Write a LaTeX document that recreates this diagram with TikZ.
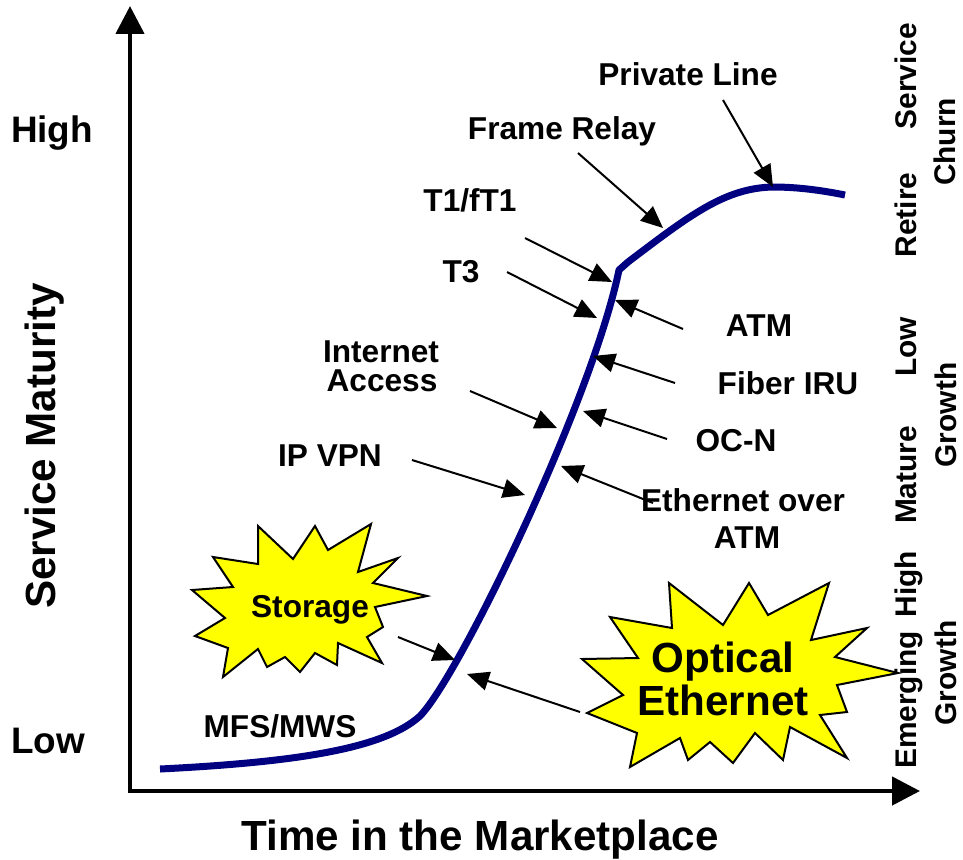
\documentclass[tikz,border=0pt]{standalone}
\usepackage{fontspec}
\setmainfont{Liberation Sans}
\usetikzlibrary{arrows.meta}
\definecolor{curveblue}{RGB}{0,0,128}
\definecolor{burstyellow}{RGB}{255,255,0}
\begin{document}
\begin{tikzpicture}[x=0.02cm,y=-0.02cm,
  lbl/.style={inner sep=0pt, anchor=base, font=\fontsize{18}{18}\selectfont\bfseries},
  biglbl/.style={lbl, font=\fontsize{24}{24}\selectfont\bfseries},
  levlbl/.style={lbl, font=\fontsize{21}{21}\selectfont\bfseries},
  side/.style={inner sep=0pt, anchor=base, rotate=90, font=\fontsize{17}{17}\selectfont\bfseries},
  pointer/.style={line width=0.04cm, -{Triangle[length=0.44cm,width=0.38cm]}},
  axisline/.style={line width=0.09cm, line join=miter,
    {Triangle[length=0.56cm,width=0.56cm]}-{Triangle[length=0.56cm,width=0.56cm]}},
  burst/.style={fill=burstyellow, draw=black, line width=0.04cm, line join=miter},
  scurve/.style={draw=curveblue, line width=0.14cm, line join=round}]
\useasboundingbox (0,0) rectangle (963,859);

% axes
\coordinate (origin) at (130,791);
\coordinate (ytip) at (130,6);
\coordinate (xtip) at (920,791);
\draw[axisline] (ytip) -- (origin) -- (xtip);

% axis titles and level marks
\node[biglbl, rotate=90] (maturity) at (55,446) {Service Maturity};
\node[biglbl] (time) at (480,850) {Time in the Marketplace};
\node[levlbl] (high) at (52,142) {High};
\node[levlbl] (low) at (48,753) {Low};

% life-cycle stages along the right edge
\node[side] (service) at (916,76) {Service};
\node[side] (churn) at (955,142) {Churn};
\node[side] (retire) at (916,215) {Retire};
\node[side] (lowg) at (916,347) {Low};
\node[side] (growthA) at (956,415) {Growth};
\node[side] (mature) at (916,475) {Mature};
\node[side] (highg) at (916,584) {High};
\node[side] (growthB) at (956,673) {Growth};
\node[side] (emerging) at (916,700) {Emerging};

% service maturity curve: slow start, steep rise, knee, flattening top
\draw[scurve] (160,769) .. controls (300,762) and (385,748) .. (420,716)
  .. controls (460,675) and (592,400) .. (619,270)
  -- (628,262) .. controls (690,215) and (725,188) .. (773,187)
  .. controls (800,187) and (825,191) .. (845,195);

% service labels
\node[lbl] (private) at (688,85) {Private Line};
\node[lbl] (frame) at (562,139) {Frame Relay};
\node[lbl] (t1) at (470,211) {T1/fT1};
\node[lbl] (t3) at (461,282) {T3};
\node[lbl] (atm) at (759,336) {ATM};
\node[lbl] (fiber) at (788,394) {Fiber IRU};
\node[lbl] (ocn) at (736,451) {OC-N};
\node[lbl] (eoaA) at (743,511) {Ethernet over};
\node[lbl] (eoaB) at (747,548) {ATM};
\node[lbl] (iaA) at (381,362) {Internet};
\node[lbl] (iaB) at (382,391) {Access};
\node[lbl] (ipvpn) at (330,466) {IP VPN};
\node[lbl] (mfs) at (280,737) {MFS/MWS};

% pointer end points
\coordinate (privS) at (723,100);  \coordinate (privE) at (773,187);
\coordinate (frS) at (578,153);    \coordinate (frE) at (663,228);
\coordinate (t1S) at (525,238);    \coordinate (t1E) at (612,282);
\coordinate (t3S) at (507,272);    \coordinate (t3E) at (597,318);
\coordinate (atmS) at (683,329);   \coordinate (atmE) at (615,300);
\coordinate (fibS) at (675,383);   \coordinate (fibE) at (593,356);
\coordinate (iaS) at (470,391);    \coordinate (iaE) at (557,428);
\coordinate (ocnS) at (667,439);   \coordinate (ocnE) at (583,411);
\coordinate (ipS) at (412,460);    \coordinate (ipE) at (525,495);
\coordinate (eoaS) at (653,503);   \coordinate (eoaE) at (561,466);
\coordinate (stS) at (398,637);    \coordinate (stE) at (455,660);
\coordinate (opS) at (580,712);    \coordinate (opE) at (467,674);

\foreach \a in {priv,fr,t1,t3,atm,fib,ia,ocn,ip,eoa,st,op}
  \draw[pointer] (\a S) -- (\a E);

% starbursts
\filldraw[burst] (258,526) -- (293,559) -- (315,526) -- (328,550) -- (371,524) -- (358,572)
  -- (398,558) -- (373,583) -- (427,596) -- (375,607) -- (383,627) -- (367,637) -- (382,663)
  -- (338,643) -- (337,665) -- (315,653) -- (300,672) -- (285,657) -- (267,667) -- (258,649)
  -- (223,677) -- (228,648) -- (195,636) -- (225,618) -- (192,590) -- (233,587) -- (213,557)
  -- (258,564) -- cycle;
\node[lbl] (storage) at (310,617) {Storage};

\filldraw[burst] (669,583) -- (723,625) -- (749,583) -- (768,615) -- (829,583) -- (811,640)
  -- (867,628) -- (835,657) -- (898,673) -- (837,685) -- (847,712) -- (820,715) -- (847,758)
  -- (790,727) -- (783,760) -- (755,733) -- (733,763) -- (710,742) -- (688,760) -- (680,738)
  -- (630,767) -- (637,733) -- (587,713) -- (623,695) -- (582,659) -- (638,658) -- (610,617)
  -- (672,628) -- cycle;
\node[biglbl] (optA) at (723,672) {Optical};
\node[biglbl] (optB) at (723,715) {Ethernet};
\end{tikzpicture}
\end{document}
